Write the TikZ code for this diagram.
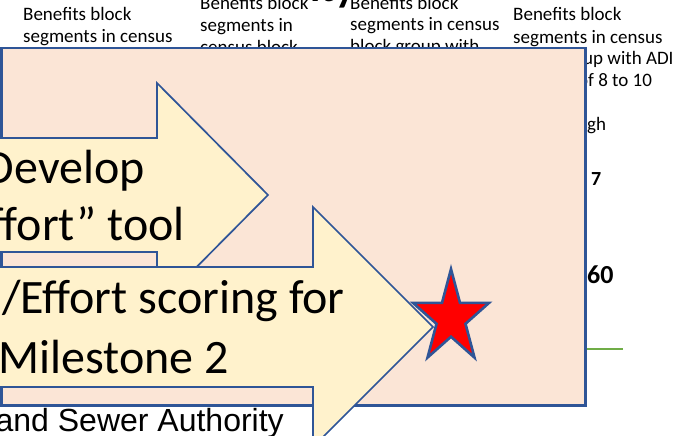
\documentclass[tikz,border=0pt]{standalone}
\usepackage{fontspec}
\setmainfont{Carlito}
\newfontfamily\arialfont{Liberation Sans}
\definecolor{panelfill}{HTML}{FBE5D6}
\definecolor{arrowfill}{HTML}{FFF2CC}
\definecolor{edgeblue}{HTML}{2F5597}
\definecolor{linegreen}{HTML}{70AD47}
\begin{document}
\begin{tikzpicture}[x=1pt,y=-1pt,
  smalltext/.style={font=\fontsize{19}{22}\selectfont, anchor=base west, inner sep=0pt, text=black},
  boldnum/.style={font=\bfseries\fontsize{#1}{#1}\selectfont, anchor=base west, inner sep=0pt},
  bigtext/.style={font=\fontsize{48}{56}\selectfont, inner sep=0pt, text=black},
  panel/.style={fill=panelfill, draw=edgeblue, line width=2.6pt},
  blockarrow/.style={fill=arrowfill, draw=edgeblue, line width=1.7pt, line join=miter},
  starshape/.style={fill=red, draw=edgeblue, line width=2.6pt, line join=miter},
  greenrule/.style={draw=linegreen, line width=2pt}
]
\useasboundingbox (0,0) rectangle (696,436);
\fill[white] (0,0) rectangle (696,436);

% title fragment above the page
\node[boldnum=42] (title) at (310,1.5) {ity};

% table text behind the panel
\node[smalltext] (c1a) at (23,20.5) {Benefits block};
\node[smalltext] (c1b) at (23,42.7) {segments in census};
\node[smalltext] (c2a) at (200,9.3) {Benefits block};
\node[smalltext] (c2b) at (200,31.7) {segments in};
\node[smalltext] (c2c) at (200,54) {census block};
\node[smalltext] (c3a) at (350,9.3) {Benefits block};
\node[smalltext] (c3b) at (350,30.7) {segments in census};
\node[smalltext] (c3c) at (350,53) {block group with};
\node[smalltext] (c4a) at (513,20.7) {Benefits block};
\node[smalltext] (c4b) at (513,43.3) {segments in census};
\node[smalltext] (c4c) at (583,65) {up with ADI};
\node[smalltext] (c4d) at (578,86.7) {of 8 to 10};
\node[smalltext] (c4e) at (587,130) {gh};
\node[boldnum=20] (n7) at (591,185) {7};
\node[boldnum=26] (n60) at (587,283) {60};
\coordinate (g1) at (585,349.3);
\coordinate (g2) at (623,349.3);
\draw[greenrule] (g1) -- (g2);

% panel
\draw[panel] (1.5,48) rectangle (585.5,405.5);

% text below panel
\node[font=\arialfont\fontsize{32}{36}\selectfont, anchor=base east, inner sep=0pt] (sewer) at (284,431) {and Sewer Authority};

% block arrows
\draw[blockarrow] (-50,138) -- (157,138) -- (157,83) -- (268,195) -- (157,307) -- (157,252) -- (-50,252) -- cycle;
\node[bigtext, anchor=base east] (d1) at (145,183) {Develop};
\node[bigtext, anchor=base east] (d2) at (185,240) {“Benefit/Effort” tool};

\draw[blockarrow] (-50,267) -- (313,267) -- (313,207) -- (433,327) -- (313,447) -- (313,387) -- (-50,387) -- cycle;
\node[bigtext, anchor=base east] (e1) at (345,313) {/Effort scoring for};
\node[bigtext, anchor=base east] (e2) at (229,373) {Milestone 2};

% star
\draw[starshape] (451,269) -- (460,302.9) -- (489,302.9) -- (465.5,323.8) -- (474.5,357.6) -- (451,336.7) -- (427.5,357.6) -- (436.5,323.8) -- (413,302.9) -- (442,302.9) -- cycle;
\end{tikzpicture}
\end{document}
